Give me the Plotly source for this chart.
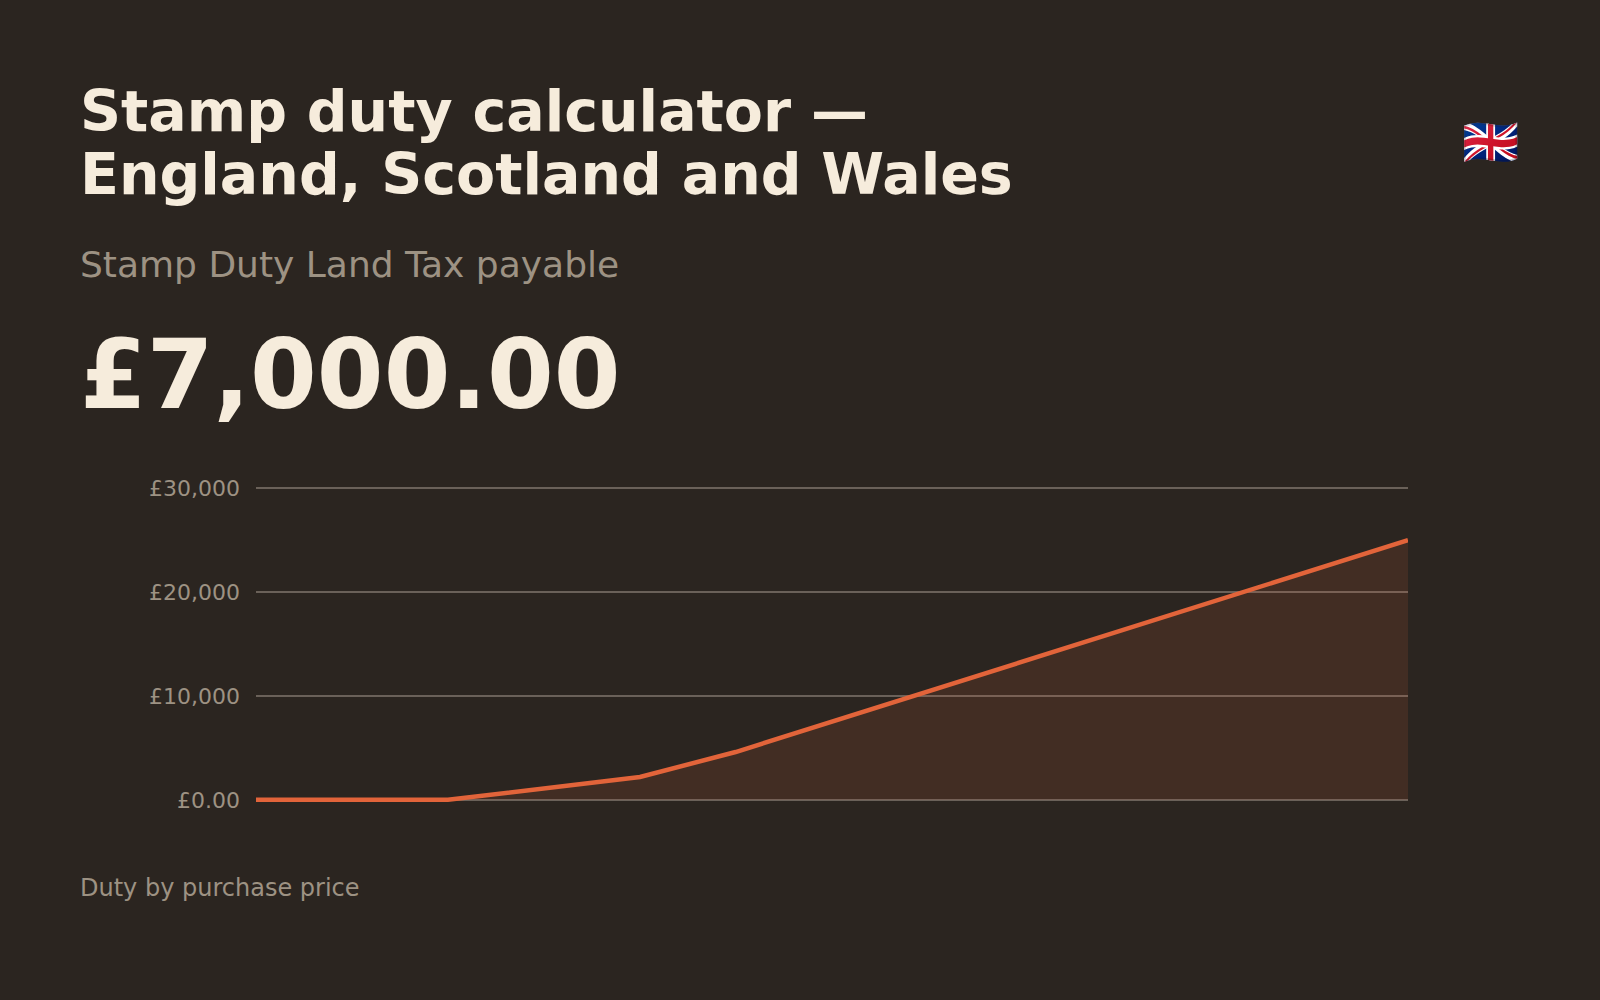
import plotly.graph_objects as go

# purchase price (GBP) vs duty payable
prices = [0, 122500, 245000, 306000, 735000]
duty = [0, 0, 2200, 4600, 25000]

tick_vals = [0, 10000, 20000, 30000]
tick_text = ["£0.00", "£10,000", "£20,000", "£30,000"]

title_lines = ["Stamp duty calculator —", "England, Scotland and Wales"]
subtitle = "Stamp Duty Land Tax payable"
headline = "£7,000.00"
footer = "Duty by purchase price"
flag = "🇬🇧"

BG = "#2b2520"
CREAM = "#f6ecdc"
MUTED = "#9d9283"
ORANGE = "#e2643a"
FONT = "DejaVu Sans"

W, H = 1600, 1000
L, R, T, B = 256, 192, 483, 195
PW, PH = W - L - R, H - T - B


def px(x):
    return (x - L) / PW


def py(y):
    return (H - B - y) / PH


fig = go.Figure()
fig.add_trace(go.Scatter(
    x=prices, y=duty, mode="lines",
    line=dict(color=ORANGE, width=4.5),
    fill="tozeroy", fillcolor="rgba(226,100,58,0.13)",
    hoverinfo="skip", showlegend=False,
))

def text(s, x, y, size, color, bold=False, anchor="left"):
    fig.add_annotation(
        text=f"<b>{s}</b>" if bold else s,
        x=px(x), y=py(y), xref="paper", yref="paper",
        xanchor=anchor, yanchor="middle", showarrow=False,
        font=dict(family=FONT, size=size, color=color),
    )

text(title_lines[0], 78, 131 - 0.35 * 57, 57, CREAM, bold=True)
text(title_lines[1], 78, 194 - 0.35 * 57, 57, CREAM, bold=True)
text(subtitle, 78, 277 - 0.35 * 36, 36, MUTED)
text(headline, 78, 409 - 0.35 * 96, 96, CREAM, bold=True)
text(footer, 78, 896 - 0.35 * 24, 24, MUTED)
text(flag, 1490, 142, 46, CREAM, anchor="center")

fig.update_layout(
    width=W, height=H,
    margin=dict(l=L, r=R, t=T, b=B),
    paper_bgcolor=BG, plot_bgcolor=BG,
    font=dict(family=FONT, color=MUTED),
    xaxis=dict(range=[0, max(prices)], visible=False, fixedrange=True),
    yaxis=dict(
        range=[-500, 30500], tickvals=tick_vals, ticktext=tick_text,
        showgrid=True, gridcolor="#6a6159", gridwidth=2, zeroline=False,
        showline=False, ticks="", ticklabelstandoff=15,
        tickfont=dict(family=FONT, size=22, color=MUTED),
        fixedrange=True,
    ),
)

# drop the browser's default body margin so the figure sits at 0,0
fig.write_html(
    "out.html",
    config={"displayModeBar": False},
    post_script="document.body.style.margin='0';",
)
